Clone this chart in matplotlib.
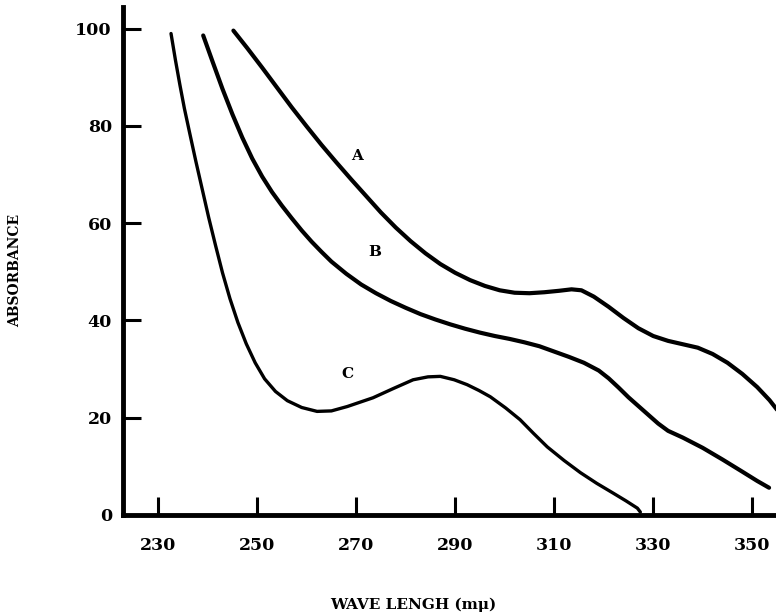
import matplotlib.pyplot as plt

# curve values (wavelength in m-mu, absorbance)
wl_a = [245.2, 248, 251, 254, 257, 260, 263, 266, 269, 272,
        275, 278, 281, 284, 287, 290, 293, 296, 299, 302,
        305, 308, 311, 313.5, 315.5, 318, 321, 324, 327, 330,
        333, 336, 339, 342, 345, 348, 351, 353.5, 355.5]
abs_a = [99.6, 96.0, 92.0, 87.9, 83.8, 79.9, 76.1, 72.5, 69.0, 65.6,
         62.2, 59.1, 56.3, 53.8, 51.6, 49.8, 48.3, 47.1, 46.2, 45.7,
         45.6, 45.8, 46.1, 46.4, 46.2, 44.9, 42.8, 40.5, 38.4, 36.8,
         35.8, 35.1, 34.4, 33.1, 31.3, 29.0, 26.3, 23.6, 21.0]

wl_b = [239.1, 241, 243, 245, 247, 249, 251, 253, 255, 257,
        259, 261, 263, 265, 268, 271, 274, 277, 280, 283,
        286, 289, 292, 295, 298, 301, 304, 307, 310, 313,
        316, 319, 321, 323, 325, 327, 329, 331, 333, 336,
        340, 344, 348, 351, 353.4]
abs_b = [98.6, 93.2, 87.6, 82.4, 77.6, 73.3, 69.6, 66.4, 63.6, 61.0,
         58.5, 56.2, 54.1, 52.1, 49.6, 47.4, 45.6, 44.0, 42.6, 41.3,
         40.2, 39.2, 38.3, 37.5, 36.8, 36.2, 35.5, 34.7, 33.6, 32.5,
         31.3, 29.7, 28.1, 26.2, 24.2, 22.4, 20.6, 18.8, 17.3, 15.9,
         13.8, 11.4, 8.9, 7.0, 5.6]

wl_c = [232.6, 233.5, 234.4, 235.3, 236.4, 237.6, 238.9, 240.2, 241.6, 243.0,
        244.5, 246.1, 247.8, 249.6, 251.5, 253.7, 256.1, 259.0, 262.1, 265.0,
        268.2, 270.8, 273.4, 277.5, 281.5, 284.5, 287.0, 289.8, 292.4, 294.8,
        297.1, 300.2, 303.1, 305.8, 308.6, 312.0, 315.3, 318.6, 321.9, 324.5,
        326.8, 327.4]
abs_c = [99.0, 93.5, 88.4, 83.6, 78.4, 72.8, 67.0, 61.2, 55.4, 49.8,
         44.5, 39.6, 35.2, 31.3, 28.0, 25.4, 23.5, 22.1, 21.3, 21.4,
         22.3, 23.2, 24.1, 26.0, 27.8, 28.4, 28.5, 27.8, 26.8, 25.6,
         24.3, 22.0, 19.6, 16.8, 14.0, 11.2, 8.7, 6.5, 4.5, 2.9,
         1.4, 0.6]

curve_names = ["A", "B", "C"]
name_x = [270.2, 273.8, 268.2]
name_y = [73.8, 54.0, 28.9]

x_ticks = [230, 250, 270, 290, 310, 330, 350]
y_ticks = [0, 20, 40, 60, 80, 100]

font = "DejaVu Serif"

fig = plt.figure(figsize=(7.76, 6.16), dpi=100)
ax = fig.add_axes([0.1585, 0.164, 0.8415, 0.825])

ax.plot(wl_a, abs_a, color="black", linewidth=3.0,
        solid_capstyle="round", solid_joinstyle="round")
ax.plot(wl_b, abs_b, color="black", linewidth=3.0,
        solid_capstyle="round", solid_joinstyle="round")
ax.plot(wl_c, abs_c, color="black", linewidth=2.4,
        solid_capstyle="round", solid_joinstyle="round")

for name, tx, ty in zip(curve_names, name_x, name_y):
    ax.text(tx, ty, name, fontsize=11, fontweight="bold", family=font,
            ha="center", va="center")

ax.set_xlim(222.9, 354.8)
ax.set_ylim(0, 104.5)

ax.spines["top"].set_visible(False)
ax.spines["right"].set_visible(False)
ax.spines["left"].set_linewidth(3.5)
ax.spines["bottom"].set_linewidth(3.5)

ax.set_xticks(x_ticks)
ax.set_yticks(y_ticks)
ax.tick_params(axis="x", direction="in", length=13, width=2.2, pad=16,
               labelsize=12.5)
ax.tick_params(axis="y", direction="in", length=13, width=2.2, pad=8,
               labelsize=12.5)
for lab in ax.get_xticklabels() + ax.get_yticklabels():
    lab.set_family(font)
    lab.set_fontweight("bold")

ax.set_xlabel("WAVE LENGH (mμ)", family=font, fontweight="bold", fontsize=11)
ax.xaxis.set_label_coords(0.444, -0.163)
ax.set_ylabel("ABSORBANCE", family=font, fontweight="bold", fontsize=10)
ax.yaxis.set_label_coords(-0.155, 0.482)

fig.savefig("out.png", dpi=100)
